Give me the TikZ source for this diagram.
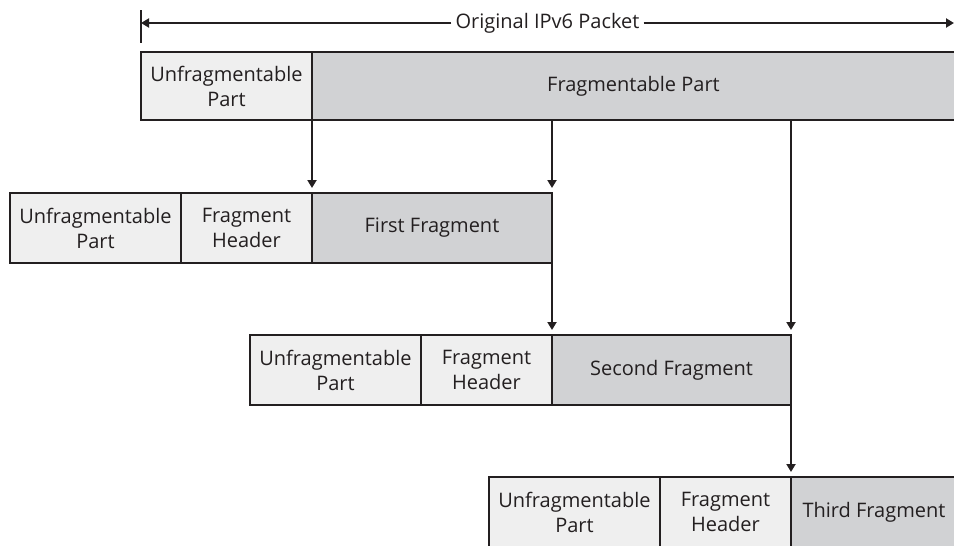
\documentclass[tikz,border=0pt]{standalone}
\usepackage{fontspec}
\setmainfont{Open Sans}
\usetikzlibrary{arrows.meta, positioning}
\definecolor{lightpart}{HTML}{EFEFEF}
\definecolor{darkpart}{HTML}{D1D2D4}
\definecolor{edge}{HTML}{231F20}

\begin{document}
\begin{tikzpicture}[
        x=1pt, y=-1pt,
        box/.style={draw=edge, line width=2pt, align=center, inner sep=0pt, outer sep=0pt, minimum height=70pt, text=edge, font=\fontsize{20}{25}\selectfont},
        unf/.style={box, fill=lightpart, minimum width=171pt},
        hdr/.style={box, fill=lightpart, minimum width=131pt},
        frg/.style={box, fill=darkpart},
        arr/.style={-{Triangle[length=8pt, width=9pt]}, line width=2pt, draw=edge}
    ]
        \useasboundingbox (0,0) rectangle (954,546);
        % original packet
        \node[unf, minimum height=68pt] (unf1) at (226.5,86) {Unfragmentable\\Part};
        \node[frg, minimum height=68pt, minimum width=643pt] (frag) at (633.5,86) {Fragmentable Part};
        \coordinate (tl) at (141,23);
        \coordinate (tr) at (954,23);
        \node[fill=white, text=edge, inner sep=4pt, font=\fontsize{20}{25}\selectfont] (orig) at (547.5,23) {Original IPv6 Packet};
        \draw[edge, line width=2pt] (tl) ++(0,-13) -- ++(0,33);
        \draw[arr] (orig) -- (tl);
        \draw[arr] (orig) -- (tr);
        % fragments
        \node[unf] (unf2) at (95.5,228) {Unfragmentable\\Part};
        \node[hdr] (hdr2) at (246.5,228) {Fragment\\Header};
        \node[frg, minimum width=240pt] (first) at (432,228) {First Fragment};
        \node[unf] (unf3) at (335.5,370) {Unfragmentable\\Part};
        \node[hdr] (hdr3) at (486.5,370) {Fragment\\Header};
        \node[frg, minimum width=239pt] (second) at (671.5,370) {Second Fragment};
        \node[unf] (unf4) at (574.5,512) {Unfragmentable\\Part};
        \node[hdr] (hdr4) at (725.5,512) {Fragment\\Header};
        \node[frg, minimum width=166pt] (third) at (874,512) {Third Fragment};
        % arrows
        \draw[arr, shorten >=5pt] (unf1.south east) -- (hdr2.north east);
        \draw[arr, shorten >=5pt] (first.north east |- frag.south) -- (first.north east);
        \draw[arr, shorten >=5pt] (first.south east) -- (second.north west);
        \draw[arr, shorten >=5pt] (second.north east |- frag.south) -- (second.north east);
        \draw[arr, shorten >=5pt] (second.south east) -- (third.north west);
    \end{tikzpicture}
\end{document}
